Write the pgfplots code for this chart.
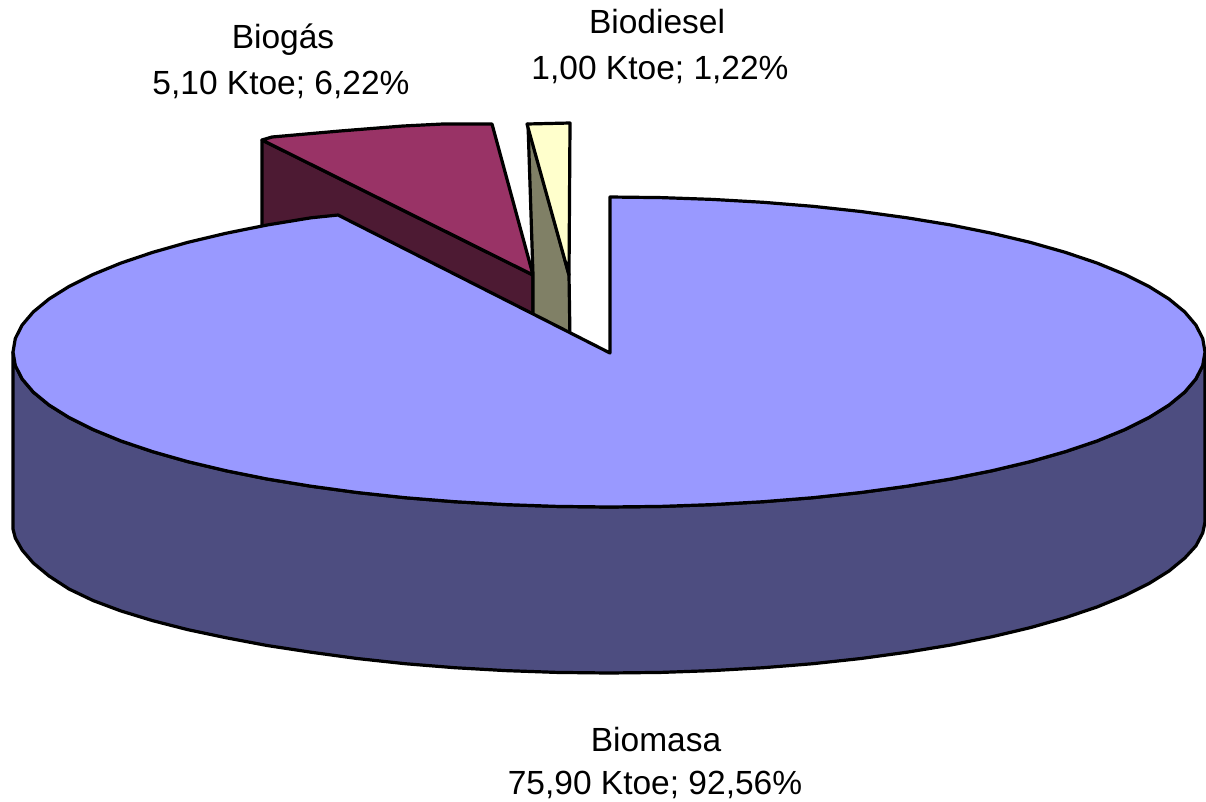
\documentclass[border=0pt]{standalone}
\usepackage{pgfplots}
\pgfplotsset{compat=1.18}
\usepackage{fontspec}
\setmainfont{Liberation Sans}
\definecolor{bluetop}{HTML}{9999FF}
\definecolor{blueside}{HTML}{4D4D80}
\definecolor{gastop}{HTML}{993366}
\definecolor{gasside}{HTML}{4D1A33}
\definecolor{dieseltop}{HTML}{FFFFCC}
\definecolor{dieselside}{HTML}{808066}
\tikzset{lbl/.style={anchor=base, inner sep=0pt, font=\fontsize{33.5}{40}\selectfont, text=black}}
\begin{document}
\begin{tikzpicture}
\useasboundingbox (0,0) rectangle (1206pt,801pt);
\begin{axis}[
  scale only axis, width=1206pt, height=801pt,
  xmin=0, xmax=1206, ymin=0, ymax=801, y dir=reverse,
  hide axis, clip=false,
  every axis plot/.append style={draw=black, line width=3.2pt, line join=round}
]
% Biogas
\addplot[fill=gasside] coordinates {(262,140) (533,275) (533,320) (340,225) (262,235)} -- cycle;
\addplot[fill=gastop] coordinates {(262,140) (272,137) (340,131) (403,126) (443,124) (492,124) (533,275)} -- cycle;
% Biodiesel
\addplot[fill=dieselside] coordinates {(528,124) (569,275) (570,340) (533,320) (533,275)} -- cycle;
\addplot[fill=dieseltop] coordinates {(527,124) (570,123) (569,275)} -- cycle;
% Biomasa side
\addplot[fill=blueside] coordinates {
(13,352) (15.3,365.5) (22.1,378.9) (33.3,392.1) (49,405) (69,417.5) (93,429.5) (120.8,440.9) (152.5,451.6) (187.6,461.6) (225.9,470.7) (267.1,479) (311,486.2) (357.1,492.5) (405.2,497.7) (454.8,501.7) (505.6,504.6) (557,506.4) (609,507)
(661,506.4) (712.4,504.6) (763.2,501.7) (812.8,497.7) (860.9,492.5) (907,486.2) (950.9,479) (992.1,470.7) (1030.4,461.6) (1065.5,451.6) (1097.2,440.9) (1125,429.5) (1149,417.5) (1169,405) (1184.7,392.1) (1195.9,378.9) (1202.7,365.5) (1205,352)
(1205,522) (1202.7,533) (1195.9,545.9) (1184.7,558.1) (1169,571) (1149,583.5) (1125,595.5) (1097.2,606.9) (1065.5,617.6) (1030.4,627.6) (992.1,636.7) (950.9,645) (907,652.2) (860.9,658.5) (812.8,663.7) (763.2,667.7) (712.4,670.6) (661,672.4) (609,673)
(557,672.4) (505.6,670.6) (454.8,667.7) (405.2,663.7) (357.1,658.5) (311,652.2) (267.1,645.5) (225.9,637.7) (187.6,629.6) (152.5,620.6) (120.8,610.9) (93,600.5) (69,589) (49,576) (33.3,563) (22.1,550) (15.3,538) (13,529)
} -- cycle;
% Biomasa top
\addplot[fill=bluetop] coordinates {
(610,197) (661,197.6) (712.4,199.4) (763.2,202.3) (812.8,206.3) (860.9,211.5) (907,217.8) (950.9,225) (992.1,233.3) (1030.4,242.4) (1065.5,252.4) (1097.2,263.1) (1125,274.5) (1149,286.5) (1169,299) (1184.7,311.9) (1195.9,325.1) (1202.7,338.5) (1205,352)
(1202.7,365.5) (1195.9,378.9) (1184.7,392.1) (1169,405) (1149,417.5) (1125,429.5) (1097.2,440.9) (1065.5,451.6) (1030.4,461.6) (992.1,470.7) (950.9,479) (907,486.2) (860.9,492.5) (812.8,497.7) (763.2,501.7) (712.4,504.6) (661,506.4) (609,507)
(557,506.4) (505.6,504.6) (454.8,501.7) (405.2,497.7) (357.1,492.5) (311,486.2) (267.1,479) (225.9,470.7) (187.6,461.6) (152.5,451.6) (120.8,440.9) (93,429.5) (69,417.5) (49,405) (33.3,392.1) (22.1,378.9) (15.3,365.5) (13,352)
(15.3,338.5) (22.1,325.1) (33.3,311.9) (49,299) (69,286.5) (93,274.5) (120.8,263.1) (152.5,252.4) (187.6,242.4) (225.9,233.3) (267.1,225) (311,217.8) (338,215)
(610,353)
} -- cycle;
% Labels
\node[lbl] at (axis cs:283,48) {Biogás};
\node[lbl] at (axis cs:281,94) {5,10 Ktoe; 6,22\%};
\node[lbl] at (axis cs:657,33) {Biodiesel};
\node[lbl] at (axis cs:660,79) {1,00 Ktoe; 1,22\%};
\node[lbl] at (axis cs:656,751) {Biomasa};
\node[lbl] at (axis cs:655,794) {75,90 Ktoe; 92,56\%};
\end{axis}
\end{tikzpicture}
\end{document}
